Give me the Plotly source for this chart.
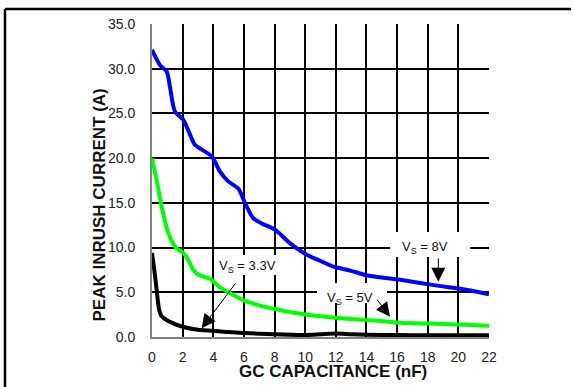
import plotly.graph_objects as go

# ---- data ----
x_8v = [0, 0.52, 0.96, 1.17, 1.5, 2.04, 2.37, 2.8, 3.9, 4.44, 4.98, 5.63, 6.07, 6.6, 7.16, 8.03,
        9.0, 10.1, 11.0, 11.8, 13, 14, 16.2, 18.4, 20.6, 22]
y_8v = [32.1, 30.4, 29.7, 28.0, 25.2, 24.3, 23.1, 21.5, 20.2, 18.5, 17.4, 16.6, 15.0, 13.3, 12.7, 12.0,
        10.5, 9.2, 8.5, 7.9, 7.4, 6.9, 6.4, 5.8, 5.26, 4.78]

x_5v = [0, 0.3, 0.63, 1.07, 1.6, 2.05, 2.3, 2.7, 3.1, 3.8, 4.4, 5.1, 6.0, 7.3, 8.4, 9.5, 10.5,
        11.6, 13, 14.9, 16.2, 18, 20, 22]
y_5v = [20.0, 17.6, 14.6, 11.6, 9.9, 9.4, 8.8, 7.5, 6.9, 6.5, 5.6, 4.9, 4.1, 3.4, 3.0, 2.65, 2.4,
        2.2, 2.0, 1.8, 1.6, 1.5, 1.4, 1.27]

x_33v = [0, 0.15, 0.3, 0.45, 0.6, 1.0, 1.5, 2.0, 3.0, 4.0, 5.0, 6.0, 8.0, 10.0, 11.0, 12.0, 13.0,
         14.0, 16, 18, 20, 22]
y_33v = [9.4, 7.5, 5.3, 3.2, 2.4, 1.85, 1.45, 1.15, 0.8, 0.7, 0.55, 0.45, 0.3, 0.22, 0.3, 0.38, 0.3,
         0.25, 0.22, 0.2, 0.2, 0.2]

x_ticks = list(range(0, 23, 2))
y_ticks = [0, 5, 10, 15, 20, 25, 30, 35]
y_tick_text = ["%.1f" % v for v in y_ticks]

x_title = "GC CAPACITANCE (nF)"
y_title = "PEAK INRUSH CURRENT (A)"

labels = ["V<sub>S</sub> = 8V", "V<sub>S</sub> = 5V", "V<sub>S</sub> = 3.3V"]

FONT = "Arial, Liberation Sans, sans-serif"

fig = go.Figure()
for xs, ys, col in [(x_33v, y_33v, "#000000"), (x_5v, y_5v, "#00FF00"), (x_8v, y_8v, "#0000FF")]:
    fig.add_trace(go.Scatter(x=xs, y=ys, mode="lines",
                             line=dict(color=col, width=4, shape="spline", smoothing=0.7),
                             showlegend=False, hoverinfo="skip"))

# white label boxes that break the grid
boxes = [(15.54, 20.76, 8.95, 11.74), (10.77, 15.34, 3.80, 6.04), (4.24, 8.36, 6.93, 9.17)]
shapes = []
for x0, x1, y0, y1 in boxes:
    shapes.append(dict(type="rect", xref="x", yref="y", x0=x0, x1=x1, y0=y0, y1=y1,
                       fillcolor="white", line=dict(width=0), layer="between"))

# outer frame (left and top edges)
fx0 = (5 - 152) / 337
fx1 = (571 - 152) / 337
fy1 = (337 - 9) / 313
fy0 = (337 - 395) / 313
shapes.append(dict(type="line", xref="paper", yref="paper", x0=fx0, x1=fx0, y0=fy0, y1=fy1,
                   line=dict(color="black", width=2.5)))
shapes.append(dict(type="line", xref="paper", yref="paper", x0=fx0, x1=fx1, y0=fy1, y1=fy1,
                   line=dict(color="black", width=2.5)))

annotations = []
text_pos = [(17.8, 10.0), (12.9, 4.3), (6.25, 7.85)]
for (tx, ty), t in zip(text_pos, labels):
    annotations.append(dict(x=tx, y=ty, xref="x", yref="y", text=t, showarrow=False,
                            xanchor="center", yanchor="middle",
                            font=dict(family=FONT, size=13, color="#111")))
arrows = [((18.69, 8.98), (18.69, 6.18)), ((14.62, 4.33), (15.54, 2.27)), ((5.53, 6.18), (3.24, 0.97))]
for (ax, ay), (hx, hy) in arrows:
    annotations.append(dict(x=hx, y=hy, ax=ax, ay=ay, xref="x", yref="y", axref="x", ayref="y",
                            text="", showarrow=True, arrowhead=2, arrowsize=2.8, arrowwidth=1,
                            arrowcolor="black"))

annotations.append(dict(x=(98.5 - 152) / 337, y=(337 - 205) / 313, xref="paper", yref="paper",
                        xanchor="center", yanchor="middle",
                        text="<b>%s</b>" % y_title, textangle=-90, showarrow=False,
                        font=dict(family=FONT, size=17, color="#111")))
annotations.append(dict(x=(333 - 152) / 337, y=(337 - 371) / 313, xref="paper", yref="paper",
                        xanchor="center", yanchor="middle",
                        text="<b>%s</b>" % x_title, showarrow=False,
                        font=dict(family=FONT, size=17, color="#111")))

fig.update_layout(
    width=573, height=387,
    margin=dict(l=152, r=84, t=24, b=50),
    paper_bgcolor="white", plot_bgcolor="white",
    shapes=shapes, annotations=annotations,
    font=dict(family=FONT, size=14, color="#222"),
)
fig.update_xaxes(range=[0, 22], tickvals=x_ticks, showgrid=True, gridcolor="black", gridwidth=1.5,
                 zeroline=False, showline=True, linecolor="#808080", linewidth=2,
                 ticks="outside", ticklen=6, tickcolor="rgba(0,0,0,0)",
                 tickfont=dict(family=FONT, size=14, color="#222"))
fig.update_yaxes(range=[0, 35], tickvals=y_ticks, ticktext=y_tick_text, showgrid=True,
                 gridcolor="black", gridwidth=1.5, zeroline=False, showline=True,
                 linecolor="#808080", linewidth=2, ticks="outside", ticklen=12,
                 tickcolor="rgba(0,0,0,0)", tickfont=dict(family=FONT, size=14, color="#222"))

fig.write_html("out.html")
